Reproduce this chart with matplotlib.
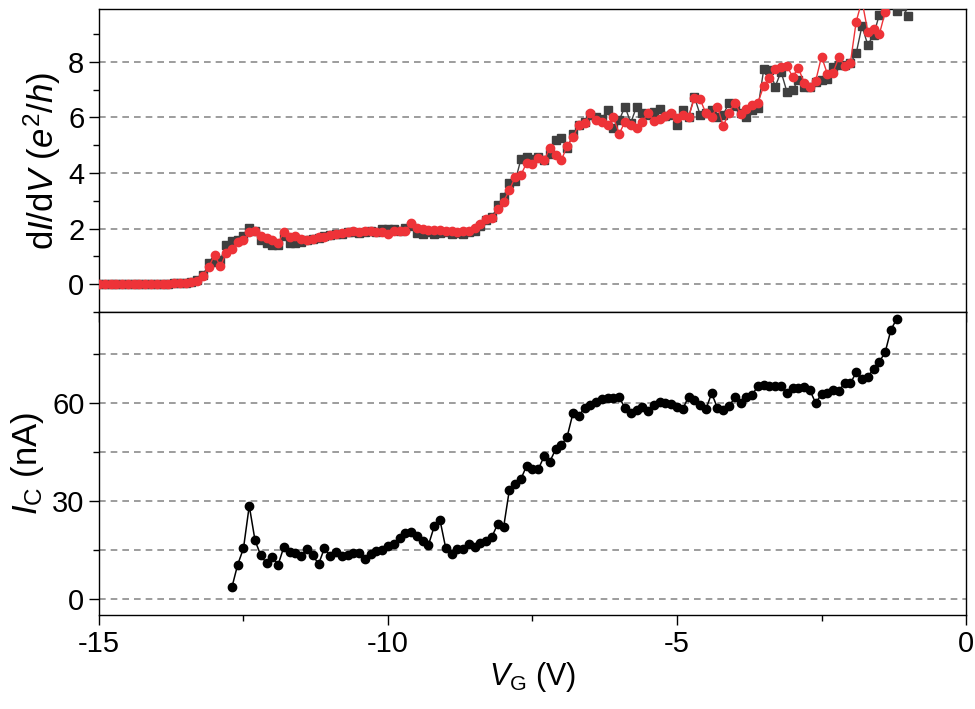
import numpy as np
import matplotlib
matplotlib.use('Agg')
import matplotlib.pyplot as plt
from matplotlib.ticker import MultipleLocator, FuncFormatter

plt.rcParams['font.family'] = ['Liberation Sans', 'DejaVu Sans']
plt.rcParams['mathtext.fontset'] = 'custom'
plt.rcParams['mathtext.rm'] = 'Liberation Sans'
plt.rcParams['mathtext.it'] = 'Liberation Sans:italic'
plt.rcParams['axes.unicode_minus'] = False

# gate voltage sweep (V)
vg = [-15.0, -14.9, -14.8, -14.7, -14.6, -14.5, -14.4, -14.3, -14.2, -14.1,
      -14.0, -13.9, -13.8, -13.7, -13.6, -13.5, -13.4, -13.3, -13.2, -13.1,
      -13.0, -12.9, -12.8, -12.7, -12.6, -12.5, -12.4, -12.3, -12.2, -12.1,
      -12.0, -11.9, -11.8, -11.7, -11.6, -11.5, -11.4, -11.3, -11.2, -11.1,
      -11.0, -10.9, -10.8, -10.7, -10.6, -10.5, -10.4, -10.3, -10.2, -10.1,
      -10.0, -9.9, -9.8, -9.7, -9.6, -9.5, -9.4, -9.3, -9.2, -9.1,
      -9.0, -8.9, -8.8, -8.7, -8.6, -8.5, -8.4, -8.3, -8.2, -8.1,
      -8.0, -7.9, -7.8, -7.7, -7.6, -7.5, -7.4, -7.3, -7.2, -7.1,
      -7.0, -6.9, -6.8, -6.7, -6.6, -6.5, -6.4, -6.3, -6.2, -6.1,
      -6.0, -5.9, -5.8, -5.7, -5.6, -5.5, -5.4, -5.3, -5.2, -5.1,
      -5.0, -4.9, -4.8, -4.7, -4.6, -4.5, -4.4, -4.3, -4.2, -4.1,
      -4.0, -3.9, -3.8, -3.7, -3.6, -3.5, -3.4, -3.3, -3.2, -3.1,
      -3.0, -2.9, -2.8, -2.7, -2.6, -2.5, -2.4, -2.3, -2.2, -2.1,
      -2.0, -1.9, -1.8, -1.7, -1.6, -1.5, -1.4, -1.3, -1.2, -1.1,
      -1.0]

# dI/dV (e^2/h), gray squares
g_gray = [0, 0, 0, 0, 0, 0, 0, 0, 0, 0.01, 0.01, 0.02, 0.02, 0.03,
          0.04, 0.05, 0.08, 0.16, 0.32, 0.75, 0.78, 0.87, 1.41, 1.55,
          1.60, 1.75, 2.01, 1.90, 1.60, 1.47, 1.41, 1.41, 1.72, 1.47,
          1.47, 1.53, 1.58, 1.62, 1.66, 1.72, 1.76, 1.81, 1.81, 1.86,
          1.88, 1.84, 1.86, 1.93, 1.88, 1.97, 1.99, 1.97, 1.93, 2.01,
          2.10, 1.85, 1.81, 1.86, 1.81, 1.83, 1.88, 1.81, 1.84, 1.81,
          1.86, 1.90, 2.10, 2.30, 2.40, 2.85, 3.15, 3.64, 3.70, 4.50,
          4.57, 4.50, 4.59, 4.45, 4.70, 5.19, 5.25, 4.89, 5.40, 5.73,
          5.85, 6.09, 6.03, 5.95, 6.27, 5.61, 5.90, 6.39, 5.80, 6.39,
          6.15, 6.10, 6.21, 6.29, 6.05, 6.10, 5.73, 6.27, 6.01, 6.75,
          6.09, 6.15, 6.27, 6.03, 6.10, 6.53, 6.40, 6.15, 6.03, 6.25,
          6.33, 7.73, 7.71, 7.11, 7.65, 6.93, 6.99, 7.35, 7.09, 7.10,
          7.29, 7.35, 7.37, 7.83, 7.89, 7.90, 7.95, 8.31, 9.29, 8.61,
          8.97, 9.69, 9.95, 10.1, 9.83, 10.0, 9.65]

# dI/dV (e^2/h), red circles
g_red = [0, 0, 0, 0, 0, 0, 0, 0, 0, 0.01, 0.01, 0.02, 0.02, 0.03,
         0.04, 0.04, 0.06, 0.13, 0.30, 0.62, 1.05, 0.64, 1.11, 1.26,
         1.53, 1.59, 1.86, 1.93, 1.74, 1.65, 1.59, 1.47, 1.89, 1.69,
         1.74, 1.62, 1.59, 1.64, 1.69, 1.71, 1.76, 1.81, 1.83, 1.88,
         1.90, 1.88, 1.90, 1.93, 1.86, 1.88, 1.81, 1.93, 1.90, 1.93,
         2.19, 2.01, 1.98, 1.95, 1.95, 1.95, 1.93, 1.90, 1.88, 1.90,
         1.93, 2.01, 2.17, 2.34, 2.37, 2.70, 2.97, 3.39, 3.85, 3.93,
         4.37, 4.33, 4.53, 4.45, 4.89, 4.65, 4.47, 4.97, 5.29, 5.73,
         5.81, 6.15, 5.91, 5.85, 5.73, 6.01, 5.41, 5.85, 5.73, 5.61,
         5.85, 6.15, 5.87, 5.93, 6.05, 6.15, 5.97, 6.09, 6.01, 6.69,
         6.65, 6.15, 6.03, 6.39, 5.69, 6.17, 6.53, 6.13, 6.29, 6.45,
         6.53, 7.13, 7.41, 7.73, 7.83, 7.85, 7.47, 7.77, 7.25, 7.09,
         7.32, 8.19, 7.57, 7.61, 8.17, 7.85, 7.97, 9.45, 10.2, 9.09,
         9.17, 8.99, 9.78]

# critical current (nA), from -12.7 V to -1.2 V
ic = [3.6, 10.5, 15.5, 28.5, 17.9, 13.3, 10.9, 12.8, 10.5, 16.0,
      14.3, 14.0, 13.2, 15.2, 13.3, 10.7, 15.5, 13.2, 14.3, 13.1,
      13.6, 14.1, 14.1, 12.1, 13.9, 14.6, 15.1, 16.3, 16.9, 18.7,
      20.2, 20.4, 19.4, 17.7, 16.5, 22.2, 24.1, 15.5, 13.7, 15.2,
      15.4, 16.9, 16.0, 17.1, 17.6, 19.1, 23.0, 21.9, 33.4, 35.3,
      36.7, 40.8, 39.8, 39.7, 43.6, 42.0, 45.8, 47.0, 49.7, 56.8,
      56.0, 58.4, 59.4, 60.3, 61.1, 61.4, 61.4, 61.7, 58.4, 56.8,
      57.9, 58.7, 57.6, 59.4, 60.4, 59.9, 59.7, 58.8, 58.1, 61.9,
      60.9, 59.4, 58.1, 62.9, 58.4, 57.9, 58.9, 61.7, 59.9, 61.9,
      62.4, 65.2, 65.5, 65.3, 65.2, 65.2, 63.0, 64.5, 64.5, 64.7,
      63.8, 59.9, 62.7, 62.9, 64.0, 63.7, 66.0, 66.0, 69.3, 67.3,
      68.0, 70.3, 72.6, 75.4, 82.3, 85.7]

vg_gray = vg[:len(g_gray)]
vg_red = vg[:len(g_red)]
vg_ic = vg[23:23 + len(ic)]

fig = plt.figure(figsize=(9.75, 7.09), dpi=100)
ax1 = fig.add_axes([0.1015, 0.56, 0.8893, 0.4273])
ax2 = fig.add_axes([0.1015, 0.1326, 0.8893, 0.4274])

grid_kw = dict(color='#8c8c8c', linestyle=(0, (4, 3)), linewidth=1.2)

ax1.plot(vg_gray, g_gray, '-s', color='#3f3f3f', ms=5.5, lw=1.0, zorder=3)
ax1.plot(vg_red, g_red, '-o', color='#ee3338', ms=6, lw=1.0, zorder=4)
ax1.set_xlim(-15, 0)
ax1.set_ylim(-1, 9.9)
ax1.yaxis.set_major_locator(MultipleLocator(2))
ax1.yaxis.set_minor_locator(MultipleLocator(1))
ax1.yaxis.grid(True, which='major', **grid_kw)
ax1.tick_params(labelbottom=False)
ax1.set_ylabel(r'd$\mathit{I}$/d$\mathit{V}$ ($\mathit{e}^2$/$\mathit{h}$)', fontsize=25)

ax2.plot(vg_ic, ic, '-o', color='black', ms=6, lw=1.1, zorder=3)
ax2.set_xlim(-15, 0)
ax2.set_ylim(-4.9, 87.8)
ax2.yaxis.set_major_locator(MultipleLocator(30))
ax2.yaxis.set_minor_locator(MultipleLocator(15))
ax2.yaxis.grid(True, which='both', **grid_kw)
ax2.set_ylabel(r'$\mathit{I}_{\rm C}$ (nA)', fontsize=25)
ax2.set_xlabel(r'$\mathit{V}_{\rm G}$ (V)', fontsize=22, labelpad=2)

for ax in (ax1, ax2):
    ax.set_axisbelow(True)
    ax.xaxis.set_major_locator(MultipleLocator(5))
    ax.xaxis.set_minor_locator(MultipleLocator(2.5))
    ax.xaxis.set_major_formatter(FuncFormatter(lambda v, p: '%d' % v))
    ax.tick_params(which='both', direction='out', width=1.0, labelsize=21)
    ax.tick_params(which='major', length=7)
    ax.tick_params(which='minor', length=4.5)
    for s in ax.spines.values():
        s.set_linewidth(1.0)

fig.align_ylabels([ax1, ax2])
fig.savefig('out.png', dpi=100)
